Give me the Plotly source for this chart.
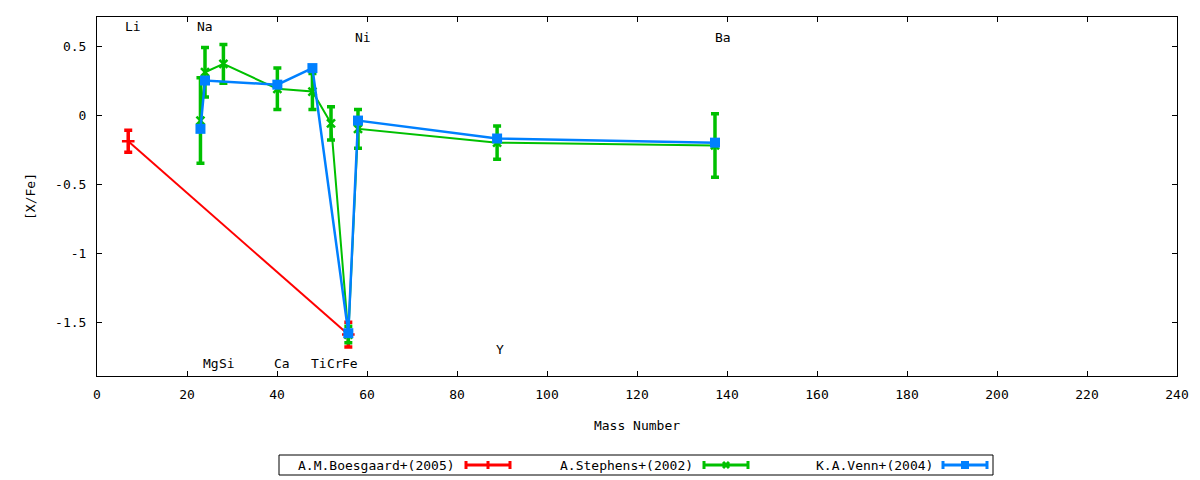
import plotly.graph_objects as go

# [X/Fe] vs mass number

# A.M.Boesgaard+(2005): Li, Fe
boes_mass = [6.94, 55.85]
boes_xfe = [-0.19, -1.59]
boes_err = [0.08, 0.09]

# A.Stephens+(2002): Na Mg Si Ca Ti Cr Fe Ni Y Ba
step_mass = [22.99, 24.0, 28.09, 40.08, 47.87, 52.0, 55.85, 58.0, 88.91, 137.33]
step_xfe = [-0.04, 0.31, 0.37, 0.19, 0.17, -0.06, -1.59, -0.10, -0.20, -0.22]
step_err = [0.31, 0.18, 0.14, 0.15, 0.13, 0.12, 0.06, 0.14, 0.12, 0.23]

# K.A.Venn+(2004): Na Mg Ca Ti Fe Ni Y Ba
venn_mass = [22.99, 24.0, 40.08, 47.87, 55.85, 58.0, 88.91, 137.33]
venn_xfe = [-0.10, 0.25, 0.22, 0.34, -1.58, -0.04, -0.17, -0.20]

# element labels
elem_names = ['Li', 'Na', 'Ni', 'Ba', 'Mg', 'Si', 'Ca', 'Ti', 'Cr', 'Fe', 'Y']
elem_x = [8.0, 23.9, 59.0, 139.0, 25.3, 28.8, 41.1, 49.3, 52.8, 56.2, 89.5]
elem_y = [0.64, 0.64, 0.56, 0.56, -1.80, -1.80, -1.80, -1.80, -1.80, -1.80, -1.70]

x_ticks = list(range(0, 241, 20))
y_ticks = [-1.5, -1, -0.5, 0, 0.5]
y_ticktext = ['-1.5', '-1', '-0.5', '0', '0.5']

RED = '#ff0000'
GREEN = '#00c000'
BLUE = '#0080ff'
FONT = 'DejaVu Sans Mono'

fig = go.Figure()

fig.add_trace(go.Scatter(x=boes_mass, y=boes_xfe, mode='lines+markers',
                         name='A.M.Boesgaard+(2005)',
                         line=dict(color=RED, width=2),
                         marker=dict(symbol='cross-thin', size=9, color=RED,
                                     line=dict(color=RED, width=2.5)),
                         error_y=dict(type='data', array=boes_err, color=RED,
                                      thickness=3.5, width=4)))

fig.add_trace(go.Scatter(x=step_mass, y=step_xfe, mode='lines+markers',
                         name='A.Stephens+(2002)',
                         line=dict(color=GREEN, width=2),
                         marker=dict(symbol='x-thin', size=8, color=GREEN,
                                     line=dict(color=GREEN, width=2.5)),
                         error_y=dict(type='data', array=step_err, color=GREEN,
                                      thickness=3.5, width=4)))

fig.add_trace(go.Scatter(x=venn_mass, y=venn_xfe, mode='lines+markers',
                         name='K.A.Venn+(2004)',
                         line=dict(color=BLUE, width=2.5),
                         marker=dict(symbol='square', size=10, color=BLUE)))

for name, x, y in zip(elem_names, elem_x, elem_y):
    fig.add_annotation(x=x, y=y, text=name, showarrow=False,
                       xanchor='center', yanchor='middle',
                       font=dict(family=FONT, size=13, color='black'))


# gnuplot-like key below the plot (page pixel -> paper helpers)
def px(x):
    return (x - 97) / 1080


def py(y):
    return (376 - y) / 359


fig.add_shape(type='rect', xref='paper', yref='paper',
              x0=px(279), x1=px(993), y0=py(475), y1=py(455),
              line=dict(color='black', width=1))

key_names = ['A.M.Boesgaard+(2005)', 'A.Stephens+(2002)', 'K.A.Venn+(2004)']
key_colors = [RED, GREEN, BLUE]
key_marks = ['plus', 'x', 'square']
key_text_right = [457, 695, 935]
key_x0 = [466, 704, 943]
key_len = 44
ky = 465

for name, col, mark, tr, x0 in zip(key_names, key_colors, key_marks, key_text_right, key_x0):
    fig.add_annotation(xref='paper', yref='paper', x=px(tr), y=py(ky), text=name,
                       showarrow=False, xanchor='right', yanchor='middle',
                       font=dict(family=FONT, size=13, color='black'))
    x1 = x0 + key_len
    xm = (x0 + x1) / 2
    ln = dict(color=col, width=3)
    fig.add_shape(type='line', xref='paper', yref='paper',
                  x0=px(x0), x1=px(x1), y0=py(ky), y1=py(ky), line=ln)
    for xc in (x0, x1):
        fig.add_shape(type='line', xref='paper', yref='paper',
                      x0=px(xc), x1=px(xc), y0=py(ky - 4), y1=py(ky + 4), line=ln)
    if mark == 'plus':
        fig.add_shape(type='line', xref='paper', yref='paper',
                      x0=px(xm), x1=px(xm), y0=py(ky - 4), y1=py(ky + 4), line=ln)
    elif mark == 'x':
        fig.add_shape(type='line', xref='paper', yref='paper',
                      x0=px(xm - 3), x1=px(xm + 3), y0=py(ky - 3), y1=py(ky + 3), line=ln)
        fig.add_shape(type='line', xref='paper', yref='paper',
                      x0=px(xm - 3), x1=px(xm + 3), y0=py(ky + 3), y1=py(ky - 3), line=ln)
    else:
        fig.add_shape(type='rect', xref='paper', yref='paper',
                      x0=px(xm - 4), x1=px(xm + 4), y0=py(ky + 4), y1=py(ky - 4),
                      line=dict(color=col, width=0), fillcolor=col)

# the page body has an 8px margin: figure is 8px smaller, left/top margins 8px less
fig.update_layout(width=1192, height=472, showlegend=False,
                  plot_bgcolor='white', paper_bgcolor='white',
                  margin=dict(l=89, r=23, t=9, b=104),
                  font=dict(family=FONT, size=13, color='black'))

fig.update_xaxes(range=[0, 240], tickvals=x_ticks, ticks='inside', ticklen=5,
                 tickcolor='black', showline=True, linecolor='black', linewidth=1,
                 mirror='ticks', showgrid=False, zeroline=False,
                 ticklabelstandoff=6,
                 title=dict(text='Mass Number', standoff=20,
                            font=dict(family=FONT, size=13, color='black')))

fig.update_yaxes(range=[-1.89, 0.71], tickvals=y_ticks, ticktext=y_ticktext,
                 ticks='inside', ticklen=5, tickcolor='black',
                 showline=True, linecolor='black', linewidth=1,
                 mirror='ticks', showgrid=False, zeroline=False,
                 ticklabelstandoff=7,
                 title=dict(text='[X/Fe]', standoff=16,
                            font=dict(family=FONT, size=13, color='black')))

fig.write_html("out.html")
